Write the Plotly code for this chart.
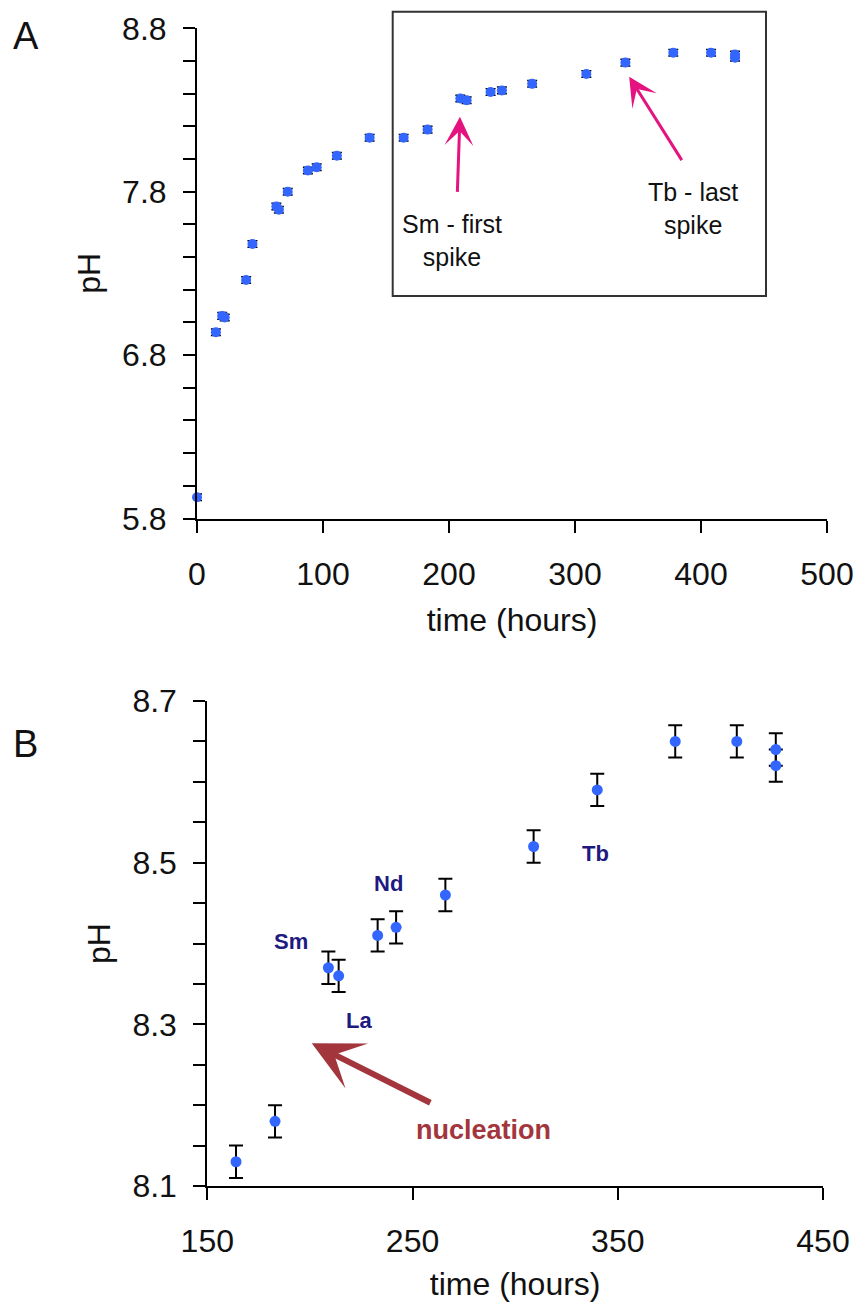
import plotly.graph_objects as go

time_h = [0, 15, 20, 22, 39, 44, 63, 65, 72, 88, 95, 111, 137,
          164, 183, 209, 214, 233, 242, 266, 309, 340, 378, 408, 427, 427]
ph = [5.93, 6.94, 7.04, 7.03, 7.26, 7.48, 7.71, 7.69, 7.80, 7.93, 7.95, 8.02, 8.13,
      8.13, 8.18, 8.37, 8.36, 8.41, 8.42, 8.46, 8.52, 8.59, 8.65, 8.65, 8.64, 8.62]
ph_err = [0.02] * len(ph)

# panel B zooms in on the late part of the run
zoom_start = 150
time_b = [t for t in time_h if t >= zoom_start]
ph_b = [p for t, p in zip(time_h, ph) if t >= zoom_start]
err_b = [e for t, e in zip(time_h, ph_err) if t >= zoom_start]

# element labels in panel B
elements = ["Sm", "La", "Nd", "Tb"]
element_pos = [(191, 8.402), (224, 8.305), (238.5, 8.474), (339, 8.511)]

FONT = "Liberation Sans, Arial, sans-serif"
BLUE = "#3366FF"
MAGENTA = "#E5137F"
NAVY = "#1F1A80"
DARKRED = "#A3363C"

W, H = 864, 1311

fig = go.Figure()

fig.add_trace(go.Scatter(
    x=time_h, y=ph, mode="markers",
    marker=dict(color=BLUE, size=10),
    error_y=dict(type="data", array=ph_err, color="black", thickness=1.5, width=5),
    cliponaxis=False, showlegend=False, xaxis="x", yaxis="y",
))

fig.add_trace(go.Scatter(
    x=time_b, y=ph_b, mode="markers",
    marker=dict(color=BLUE, size=11),
    error_y=dict(type="data", array=err_b, color="black", thickness=2, width=7),
    cliponaxis=False, showlegend=False, xaxis="x2", yaxis="y2",
))

axis_common = dict(
    showline=True, linecolor="black", linewidth=2,
    ticks="outside", ticklen=12, tickwidth=2, tickcolor="black",
    showgrid=False, zeroline=False, automargin=False,
    tickfont=dict(family=FONT, size=32, color="#111"),
    title_font=dict(family=FONT, size=32, color="#111"),
)

fig.update_layout(
    width=W, height=H,
    margin=dict(l=0, r=0, t=0, b=0),
    paper_bgcolor="white", plot_bgcolor="white",
    xaxis=dict(domain=[197 / W, 827 / W], range=[0, 500], tickvals=[0, 100, 200, 300, 400, 500],
               anchor="y", title=dict(text="time (hours)", standoff=18),
               ticklabelstandoff=14, **axis_common),
    yaxis=dict(domain=[1 - 518.5 / H, 1 - 28.3 / H], range=[5.8, 8.8], tick0=5.8, dtick=1,
               tickformat=".1f", anchor="x", title=dict(text="pH", standoff=12),
               ticklabelstandoff=10,
               minor=dict(dtick=0.2, tick0=5.8, ticks="outside", ticklen=12, tickwidth=2,
                          tickcolor="black"),
               **axis_common),
    xaxis2=dict(domain=[207.3 / W, 823 / W], range=[150, 450], tickvals=[150, 250, 350, 450],
                anchor="y2", title=dict(text="time (hours)", standoff=14),
                ticklabelstandoff=14, **axis_common),
    yaxis2=dict(domain=[1 - 1186 / H, 1 - 701 / H], range=[8.1, 8.7], tick0=8.1, dtick=0.2,
                tickformat=".1f", anchor="x2", title=dict(text="pH", standoff=12),
                ticklabelstandoff=10,
                minor=dict(dtick=0.05, tick0=8.1, ticks="outside", ticklen=12, tickwidth=2,
                           tickcolor="black"),
                **axis_common),
)

# inset box in panel A (extends above the plot area, so placed in paper coords)
fig.add_shape(type="rect", xref="paper", yref="paper",
              x0=392.7 / W, x1=766 / W, y0=1 - 296 / H, y1=1 - 11.7 / H,
              line=dict(color="#333", width=2), layer="above")

annotations = [
    dict(text="A", x=26 / W, y=1 - 36 / H, xref="paper", yref="paper",
         xanchor="center", yanchor="middle",
         showarrow=False, font=dict(family=FONT, size=38, color="#111")),
    dict(text="B", x=25 / W, y=1 - 744 / H, xref="paper", yref="paper",
         xanchor="center", yanchor="middle",
         showarrow=False, font=dict(family=FONT, size=38, color="#111")),
    # panel A arrows
    dict(x=208.7, y=8.259, ax=206.6, ay=7.79, xref="x", yref="y", axref="x", ayref="y",
         text="", showarrow=True, arrowhead=3, arrowsize=1.6, arrowwidth=3, arrowcolor=MAGENTA),
    dict(x=343, y=8.504, ax=385.5, ay=7.984, xref="x", yref="y", axref="x", ayref="y",
         text="", showarrow=True, arrowhead=3, arrowsize=1.6, arrowwidth=3, arrowcolor=MAGENTA),
    dict(text="Sm - first<br>spike", x=202, y=7.50, xref="x", yref="y", showarrow=False,
         font=dict(family=FONT, size=25, color="#111"), align="center"),
    dict(text="Tb - last<br>spike", x=393.7, y=7.70, xref="x", yref="y", showarrow=False,
         font=dict(family=FONT, size=25, color="#111"), align="center"),
    # panel B nucleation arrow
    dict(x=200.9, y=8.2765, ax=259.4, ay=8.202, xref="x2", yref="y2", axref="x2", ayref="y2",
         text="", showarrow=True, arrowhead=3, arrowsize=1.4, arrowwidth=6, arrowcolor=DARKRED),
    dict(text="<b>nucleation</b>", x=284.5, y=8.169, xref="x2", yref="y2", showarrow=False,
         font=dict(family=FONT, size=27, color=DARKRED)),
]
for name, (ex, ey) in zip(elements, element_pos):
    annotations.append(dict(text=f"<b>{name}</b>", x=ex, y=ey, xref="x2", yref="y2",
                            showarrow=False, font=dict(family=FONT, size=22, color=NAVY)))
fig.update_layout(annotations=annotations)

# drop the default page margin so the 864x1311 figure fills the window exactly
fig.write_html("out.html", config={"displayModeBar": False},
               post_script="document.body.style.margin='0';")
